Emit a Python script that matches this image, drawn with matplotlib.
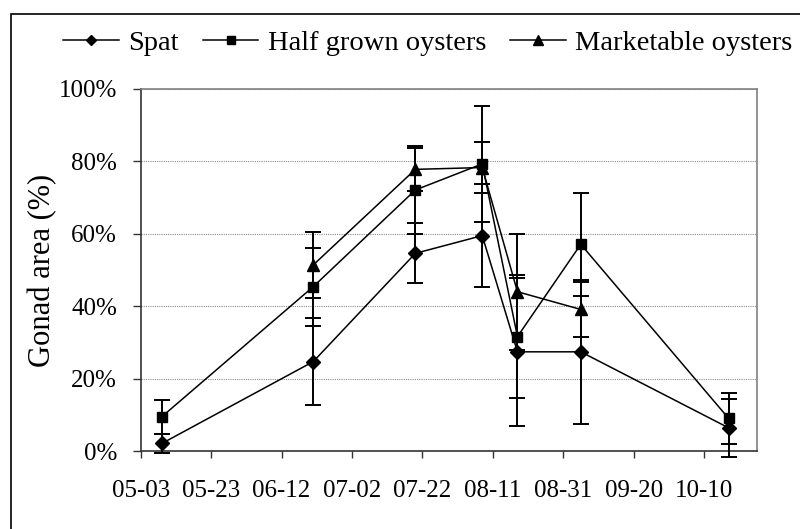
import matplotlib.pyplot as plt
from matplotlib.patches import Rectangle
from matplotlib.ticker import PercentFormatter
import datetime as dt

plt.rcParams['font.family'] = ['Liberation Serif', 'DejaVu Serif']

YEAR = 2010

spat_dates = ['05-09', '06-21', '07-20', '08-08', '08-18', '09-05', '10-17']
spat = [2.1, 24.7, 54.6, 59.5, 27.4, 27.4, 6.4]
spat_err = [2.7, 12.0, 8.3, 14.2, 20.5, 19.8, 8.0]

half_dates = ['05-09', '06-21', '07-20', '08-08', '08-18', '09-05', '10-17']
half = [9.5, 45.4, 72.1, 79.3, 31.6, 57.1, 9.0]
half_err = [4.7, 10.8, 12.2, 16.0, 16.9, 14.3, 7.0]

market_dates = ['06-21', '07-20', '08-08', '08-18', '09-05']
market = [51.4, 77.8, 78.3, 44.0, 39.1]
market_err = [9.1, 6.0, 7.0, 16.0, 7.7]

tick_labels = ['05-03', '05-23', '06-12', '07-02', '07-22', '08-11', '08-31', '09-20', '10-10']
x_start, x_end = '05-03', '10-25'


def to_date(s):
    m, d = s.split('-')
    return dt.date(YEAR, int(m), int(d))


fig = plt.figure(figsize=(8, 5.29), dpi=100)
ax = fig.add_axes([0.176, 0.1474, 0.77, 0.6844])

series = [
    (spat_dates, spat, spat_err, 'D', 7, 'Spat'),
    (half_dates, half, half_err, 's', 7.5, 'Half grown oysters'),
    (market_dates, market, market_err, '^', 9, 'Marketable oysters'),
]

for dates, vals, errs, mk, ms, lab in series:
    xs = [to_date(s) for s in dates]
    ax.plot(xs, vals, color='black', lw=1.1, marker=mk, ms=ms,
            mec='black', mfc='black', label=lab, zorder=3)
    eb = ax.errorbar(xs, vals, yerr=errs, fmt='none', ecolor='black',
                     elinewidth=1.4, capsize=5.5, capthick=1.4, zorder=4)
    for part in list(eb.lines[1]) + list(eb.lines[2]):
        part.set_clip_on(False)

ax.set_xlim(to_date(x_start), to_date(x_end))
ax.set_ylim(0, 100)
ax.set_xticks([to_date(s) for s in tick_labels])
ax.set_xticklabels(tick_labels)
ax.set_yticks([0, 20, 40, 60, 80, 100])
ax.yaxis.set_major_formatter(PercentFormatter(decimals=0))

ax.grid(axis='y', color='#8c8c8c', lw=0.8, ls=(0, (1, 1)))
ax.set_axisbelow(True)

for side in ['top', 'right']:
    ax.spines[side].set_color('#808080')
    ax.spines[side].set_linewidth(1.2)
for side in ['left', 'bottom']:
    ax.spines[side].set_color('#333333')
    ax.spines[side].set_linewidth(1.2)

ax.tick_params(axis='both', direction='out', color='#333333', width=1.0,
               labelsize=18, labelcolor='black')
ax.tick_params(axis='y', length=6, pad=11)
ax.tick_params(axis='x', length=5, pad=16)

ax.set_ylabel('Gonad area (%)', fontsize=22)
ax.yaxis.set_label_coords(-0.136, 0.5)

fig.legend(loc='center', bbox_to_anchor=(0.535, 1 - 43 / 529), ncol=3,
           frameon=False, fontsize=20.5, handlelength=1.95, handletextpad=0.33,
           columnspacing=0.85, borderaxespad=0, markerscale=0.8)

fig.patches.append(Rectangle((11 / 800, -0.1), 1.1, 1 - 14 / 529 + 0.1,
                             transform=fig.transFigure, fill=False,
                             ec='black', lw=1.2))

fig.savefig('out.png', dpi=100)
